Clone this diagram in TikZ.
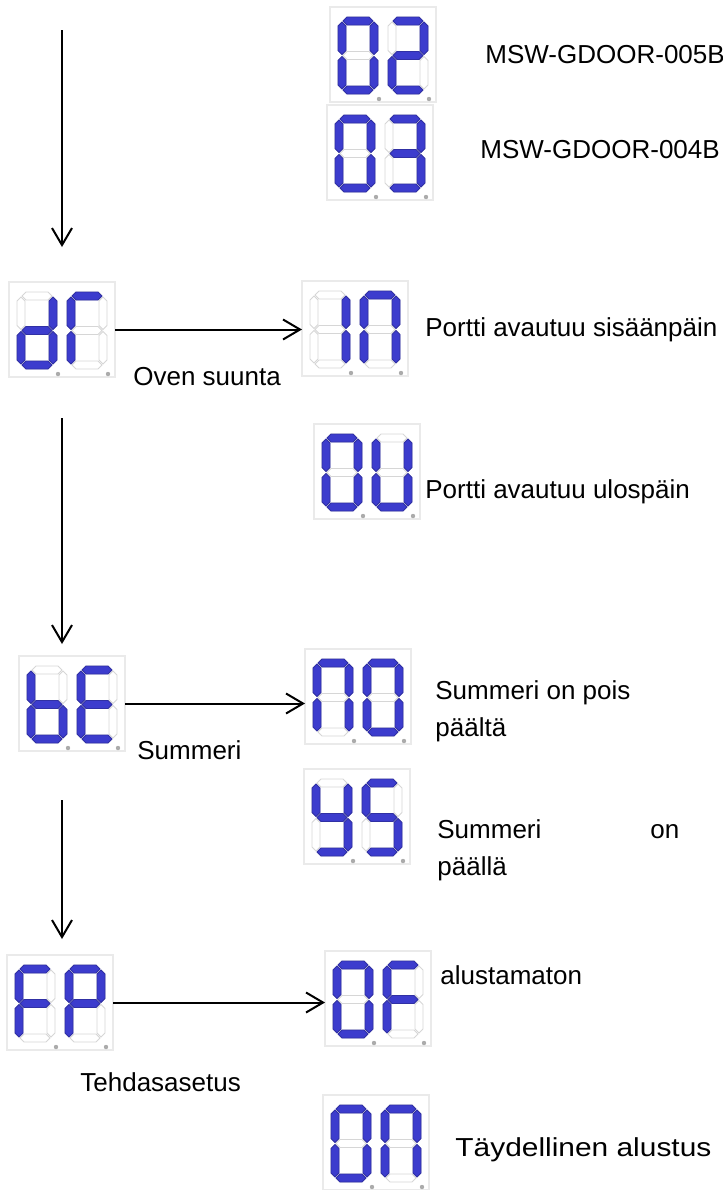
\documentclass[tikz,border=0pt]{standalone}
\usepackage{fontspec}
\setmainfont{Liberation Sans}
\usetikzlibrary{arrows.meta}

\definecolor{segblue}{RGB}{60,60,205}
\definecolor{seggray}{RGB}{214,214,214}
\definecolor{boxgray}{RGB}{234,234,234}

\tikzset{
  seg a/.style={insert path={(5,4)--(9,0)--(31,0)--(35,4)--(31,8)--(9,8)--cycle}},
  seg g/.style={insert path={(5,38.5)--(9,34.5)--(31,34.5)--(35,38.5)--(31,42.5)--(9,42.5)--cycle}},
  seg d/.style={insert path={(5,73)--(9,69)--(31,69)--(35,73)--(31,77)--(9,77)--cycle}},
  seg f/.style={insert path={(4,5)--(8,9)--(8,33.5)--(4,37.5)--(0,33.5)--(0,9)--cycle}},
  seg b/.style={insert path={(36,5)--(40,9)--(40,33.5)--(36,37.5)--(32,33.5)--(32,9)--cycle}},
  seg e/.style={insert path={(4,39.5)--(8,43.5)--(8,68)--(4,72)--(0,68)--(0,43.5)--cycle}},
  seg c/.style={insert path={(36,39.5)--(40,43.5)--(40,68)--(36,72)--(32,68)--(32,43.5)--cycle}},
  segoff/.style={draw=seggray,fill=white,line width=0.4pt},
  segon/.style={draw=segblue!80!black,fill=segblue,line width=0.4pt,line join=round},
  pics/digit/.style={code={
    \foreach \s in {a,b,c,d,e,f,g} \path[segoff,seg \s];
    \foreach \s in {#1} \path[segon,seg \s];
    \fill[seggray!80!black] (41,82) circle (2.2);
  }},
  dispbox/.style={draw=boxgray,line width=0.6pt,minimum width=53pt,minimum height=47.5pt,inner sep=0pt,outer sep=0pt},
  lbl/.style={font=\fontsize{13}{18.5}\selectfont,inner sep=0pt,anchor=west},
  arr/.style={-{Straight Barb[length=8.5pt,width=10pt]},line width=1pt},
}

% name, x, y of first digit, lit segments of both digits
\newcommand\dispunit[5]{
  \node[dispbox] (#1) at (#2+45,#3+37.5) {};
  \pic at (#2,#3) {digit={#4}};
  \pic at (#2+50,#3) {digit={#5}};
}

\begin{document}
\begin{tikzpicture}[x=0.5pt,y=-0.5pt]
\useasboundingbox (0,0) rectangle (723,1190);

\dispunit{d02}{338}{17}{a,b,c,d,e,f}{a,b,g,e,d}
\dispunit{d03}{335}{115}{a,b,c,d,e,f}{a,b,c,d,g}
\dispunit{dr}{17}{292}{b,c,d,e,g}{a,e,f}
\dispunit{in}{310}{291}{b,c}{a,b,c,e,f}
\dispunit{ou}{322}{434}{a,b,c,d,e,f}{b,c,d,e,f}
\dispunit{be}{27}{666}{c,d,e,f,g}{a,d,e,f,g}
\dispunit{no}{313}{659}{a,b,c,e,f}{a,b,c,d,e,f}
\dispunit{ys}{312}{779}{b,c,d,f,g}{a,c,d,f,g}
\dispunit{fp}{15}{965}{a,e,f,g}{a,b,e,f,g}
\dispunit{of}{333}{961}{a,b,c,d,e,f}{a,e,f,g}
\dispunit{on}{331}{1105}{a,b,c,d,e,f}{a,b,c,e,f}

\node[lbl] (t02) at (485,55) {MSW-GDOOR-005B};
\node[lbl] (t03) at (480,150) {MSW-GDOOR-004B};
\node[lbl] (tin) at (425,330) {Portti avautuu sisäänpäin};
\node[lbl] (tdr) at (133,377) {Oven suunta};
\node[lbl] (tou) at (425,492) {Portti avautuu ulospäin};
\node[lbl,align=left] (tno) at (435,711) {Summeri on pois\\päältä};
\node[lbl] (tbe) at (137,750) {Summeri};
\node[lbl,text width=121pt] (tys) at (437,850) {Summeri\hfill on\\päällä};
\node[lbl] (tof) at (440,975) {alustamaton};
\node[lbl] (tfp) at (80,1082) {Tehdasasetus};
\node[lbl,xscale=1.15,transform shape] (ton) at (455,1150) {Täydellinen alustus};

\coordinate (a1) at (62,30);
\coordinate (a2) at (62,418);
\coordinate (a3) at (62,800);
\draw[arr,shorten >=17.5pt] (a1) -- (a1 |- dr.north);
\draw[arr,shorten >=6pt] (a2) -- (a2 |- be.north);
\draw[arr,shorten >=8pt] (a3) -- (a3 |- fp.north);

\draw[arr] (dr.east) -- (dr.east -| in.west);
\draw[arr] (be.east) -- (be.east -| no.west);
\draw[arr] (fp.east) -- (fp.east -| of.west);
\end{tikzpicture}
\end{document}
